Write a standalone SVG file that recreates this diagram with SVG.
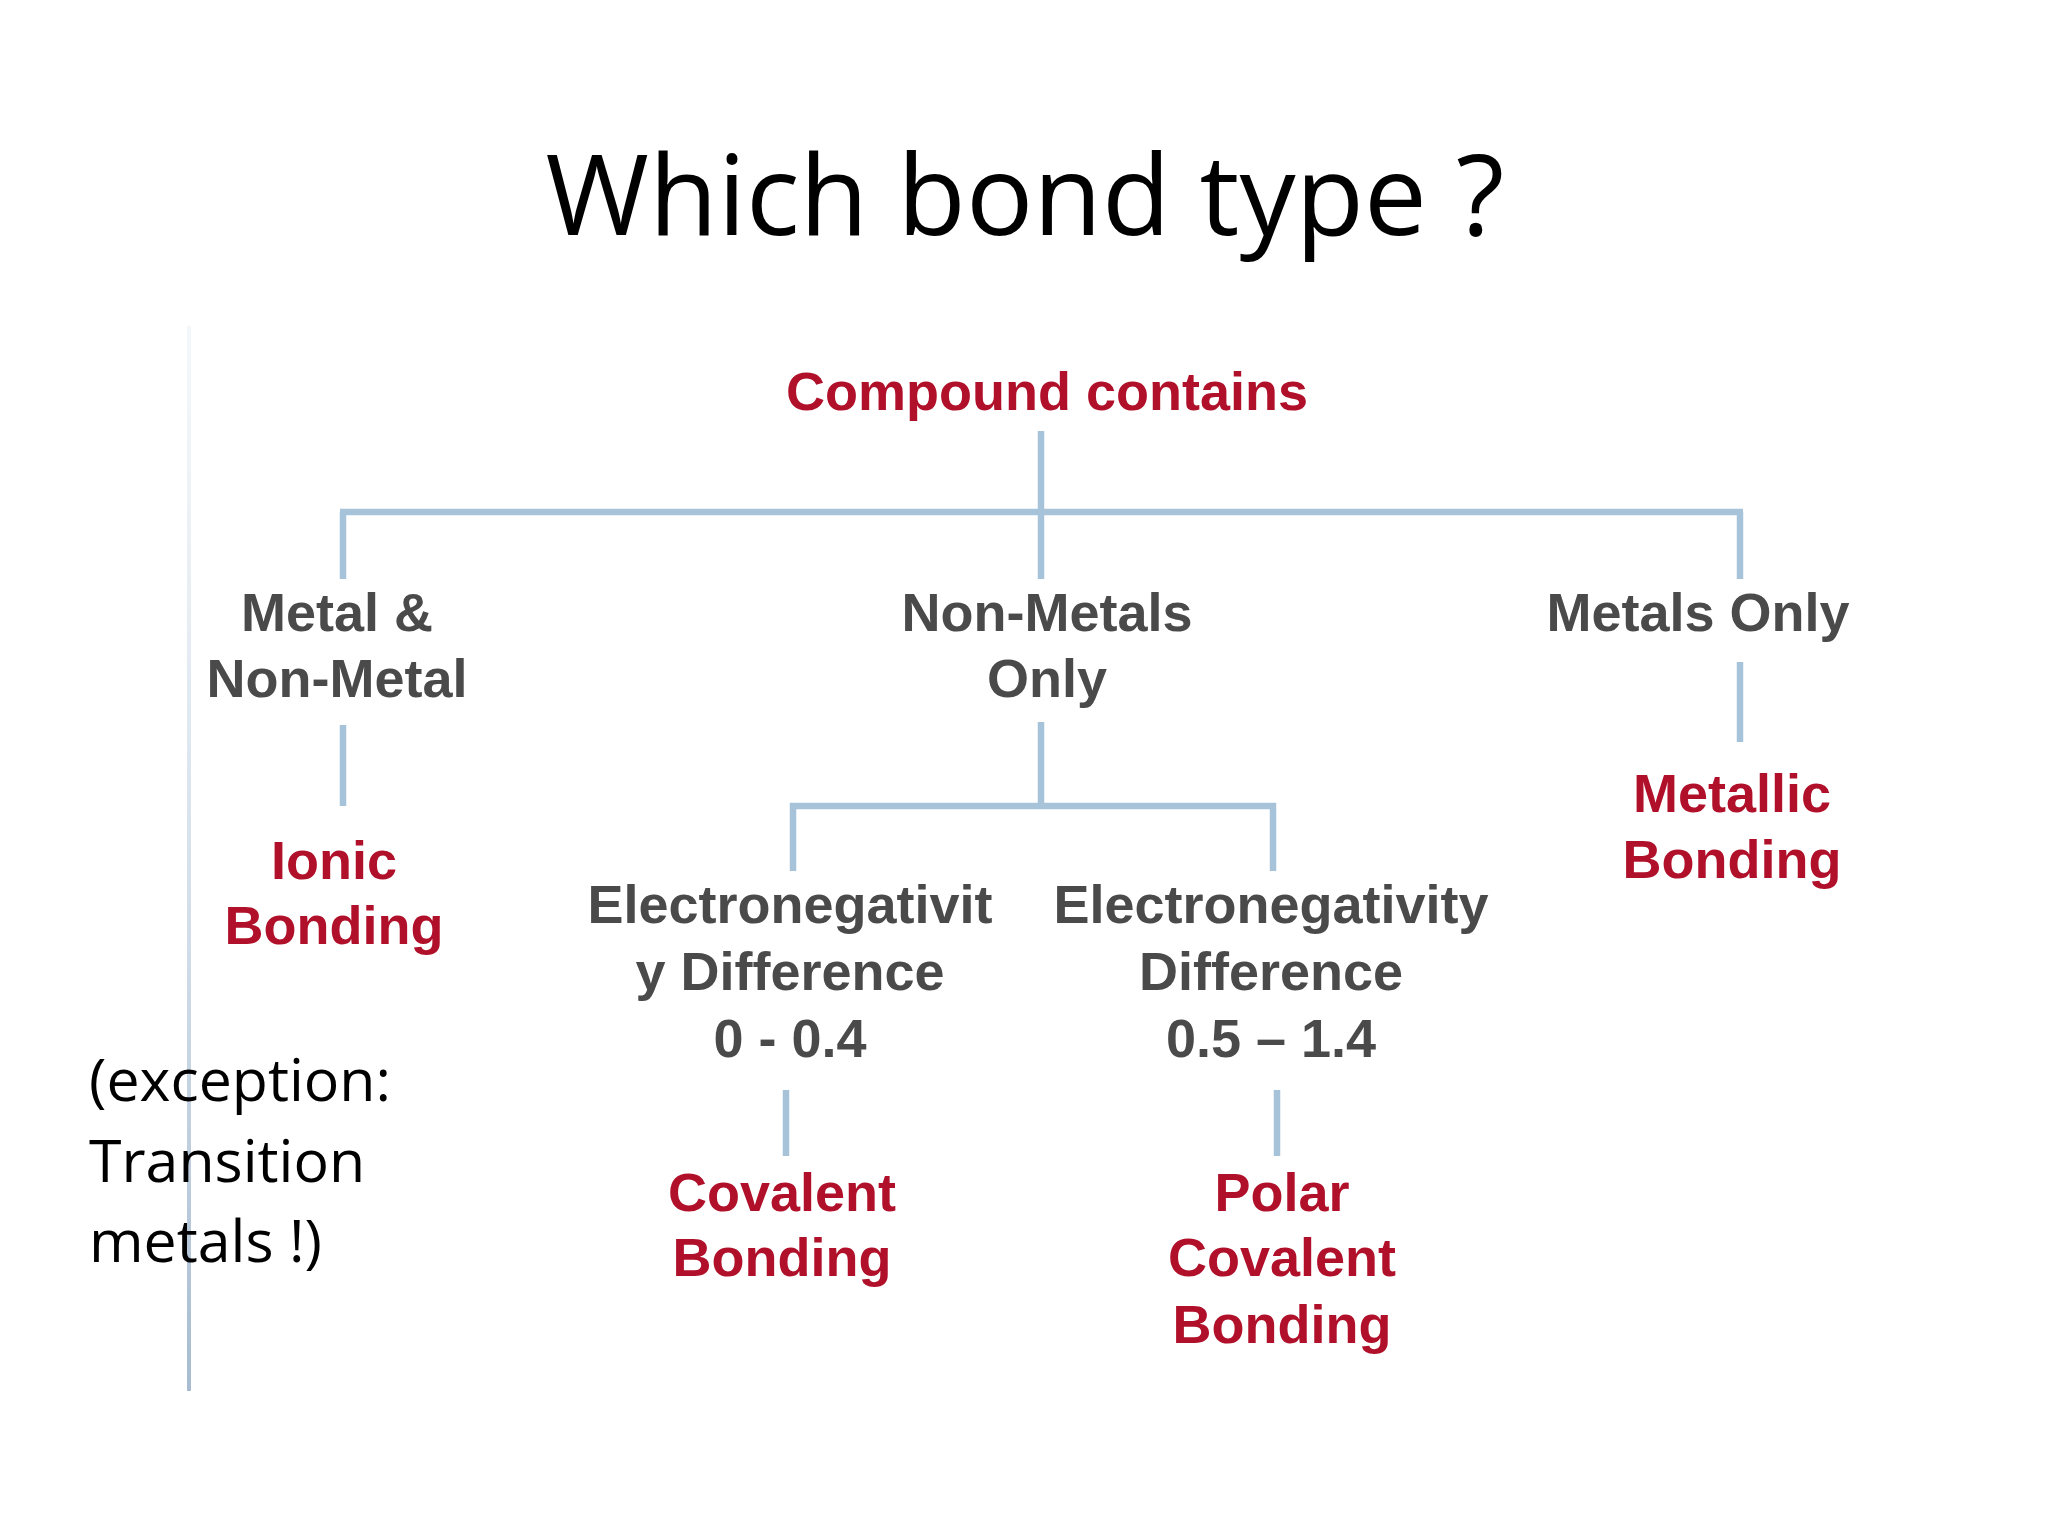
<svg xmlns="http://www.w3.org/2000/svg" width="2048" height="1536" viewBox="0 0 2048 1536">
<style>
.t{font-family:"Liberation Sans",Arial,sans-serif;font-weight:bold;font-size:54px;text-anchor:middle}
.g{fill:#4a4a4a}.r{fill:#b0102a}
.c line{stroke:#a7c3da;stroke-width:6.5}
.n{font-family:"Open Sans","Liberation Sans",sans-serif;font-size:59px;fill:#000}
</style>
<defs><linearGradient id="lg" x1="0" y1="0" x2="0" y2="1"><stop offset="0" stop-color="#dbe6f0" stop-opacity="0.3"/><stop offset="1" stop-color="#a7bcd0"/></linearGradient></defs>
<rect width="2048" height="1536" fill="#fff"/>
<rect x="187" y="326" width="4" height="1065" fill="url(#lg)"/>
<text x="1025" y="235" font-family="Open Sans,Liberation Sans,sans-serif" font-size="112" text-anchor="middle">Which bond type ?</text>
<g class="c" id="connectors">
<line x1="1041" y1="431" x2="1041" y2="512"/>
<line x1="340" y1="512" x2="1743" y2="512"/>
<line x1="343" y1="512" x2="343" y2="579"/>
<line x1="1041" y1="512" x2="1041" y2="579"/>
<line x1="1740" y1="512" x2="1740" y2="579"/>
<line x1="343" y1="725" x2="343" y2="806"/>
<line x1="1740" y1="662" x2="1740" y2="742"/>
<line x1="1041" y1="722" x2="1041" y2="806"/>
<line x1="790" y1="806" x2="1276" y2="806"/>
<line x1="793" y1="803" x2="793" y2="871"/>
<line x1="1273" y1="803" x2="1273" y2="871"/>
<line x1="786" y1="1090" x2="786" y2="1156"/>
<line x1="1277" y1="1090" x2="1277" y2="1156"/>
</g>
<g id="root"><text class="t r" x="1047" y="410">Compound contains</text></g>
<g id="mnm"><text class="t g" x="337" y="631">Metal &amp;</text><text class="t g" x="337" y="697">Non-Metal</text></g>
<g id="nmo"><text class="t g" x="1047" y="631">Non-Metals</text><text class="t g" x="1047" y="697">Only</text></g>
<g id="mo"><text class="t g" x="1698" y="631">Metals Only</text></g>
<g id="ionic"><text class="t r" x="334" y="879">Ionic</text><text class="t r" x="334" y="944">Bonding</text></g>
<g id="metallic"><text class="t r" x="1732" y="812">Metallic</text><text class="t r" x="1732" y="878">Bonding</text></g>
<g id="en1"><text class="t g" x="790" y="923">Electronegativit</text><text class="t g" x="790" y="990">y Difference</text><text class="t g" x="790" y="1057">0 - 0.4</text></g>
<g id="en2"><text class="t g" x="1271" y="923">Electronegativity</text><text class="t g" x="1271" y="990">Difference</text><text class="t g" x="1271" y="1057">0.5 – 1.4</text></g>
<g id="cov"><text class="t r" x="782" y="1211">Covalent</text><text class="t r" x="782" y="1276">Bonding</text></g>
<g id="polar"><text class="t r" x="1282" y="1211">Polar</text><text class="t r" x="1282" y="1276">Covalent</text><text class="t r" x="1282" y="1343">Bonding</text></g>
<g id="note"><text class="n" x="89" y="1101">(exception:</text><text class="n" x="89" y="1182">Transition</text><text class="n" x="89" y="1262">metals !)</text></g>
</svg>
